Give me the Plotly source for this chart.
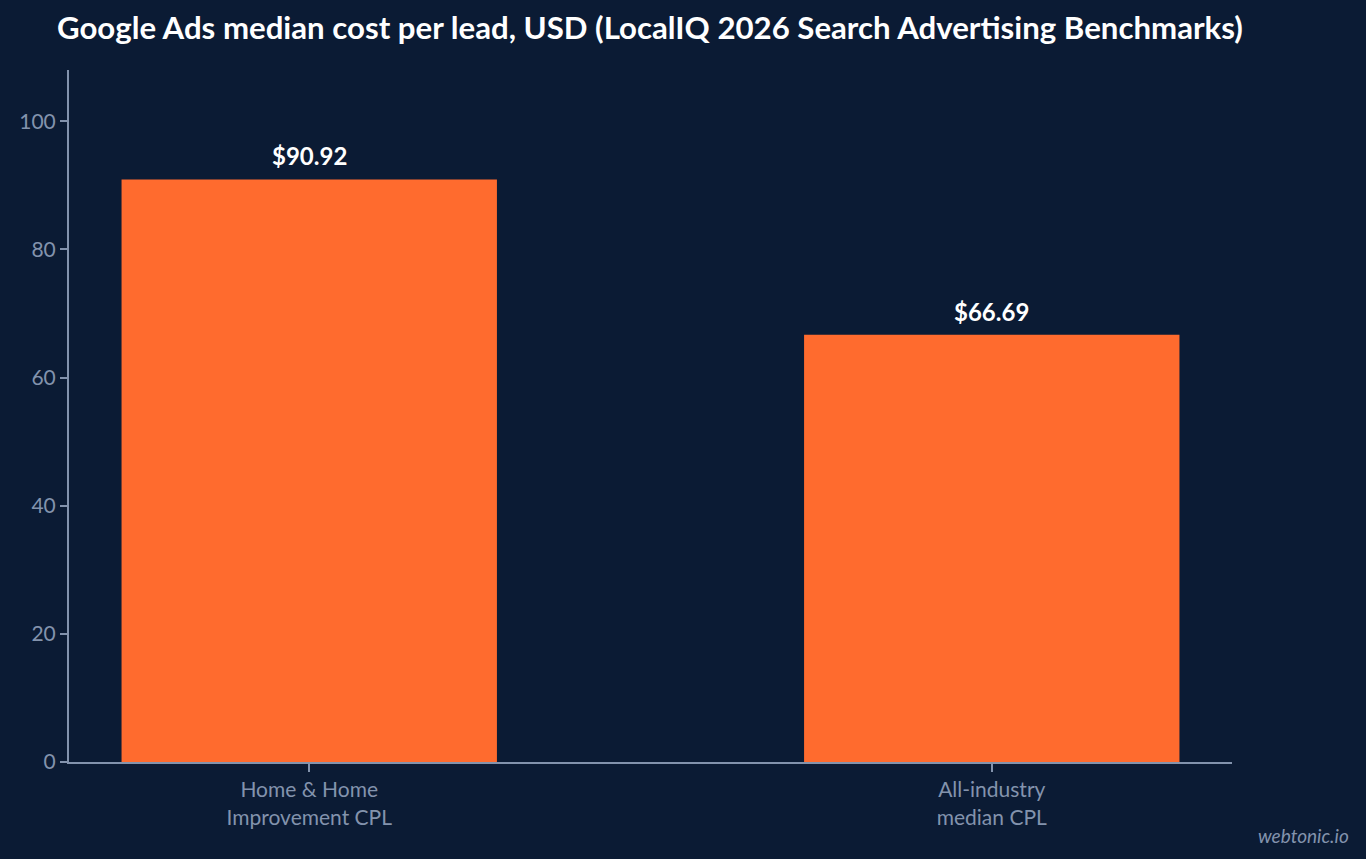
import plotly.graph_objects as go

categories = ["Home & Home<br>Improvement CPL", "All-industry<br>median CPL"]
values = [90.92, 66.69]
labels = ["$90.92", "$66.69"]
y_ticks = [0, 20, 40, 60, 80, 100]

BG = "#0b1b34"
AXIS = "#8393ad"
BAR = "#ff6b2e"

fig = go.Figure(
    go.Bar(
        x=categories,
        y=values,
        marker=dict(color=BAR, line=dict(width=0)),
        width=0.55,
        hoverinfo="skip",
    )
)

for cat, val, lab in zip(categories, values, labels):
    fig.add_annotation(
        x=cat,
        y=val,
        text="<b>%s</b>" % lab,
        showarrow=False,
        xanchor="center",
        yanchor="bottom",
        yshift=7,
        font=dict(family="Lato", size=24, color="#ffffff"),
    )

fig.update_layout(
    width=1366,
    height=859,
    paper_bgcolor=BG,
    plot_bgcolor=BG,
    margin=dict(l=69, r=134, t=70, b=97),
    font=dict(family="Lato", color=AXIS, size=21),
    title=dict(
        text="<b>Google Ads median cost per lead, USD (LocalIQ 2026 Search Advertising Benchmarks)</b>",
        font=dict(family="Lato", size=31.2, color="#ffffff"),
        x=57 / 1366,
        xanchor="left",
        y=1 - 28 / 859,
        yanchor="middle",
    ),
    xaxis=dict(
        range=[-0.352, 1.352],
        showline=True,
        linecolor=AXIS,
        linewidth=2,
        ticks="outside",
        ticklen=8,
        tickcolor=AXIS,
        tickwidth=2,
        showgrid=False,
        tickfont=dict(family="Lato", size=21, color=AXIS),
    ),
    yaxis=dict(
        range=[0, 108],
        tickvals=y_ticks,
        showline=True,
        linecolor=AXIS,
        linewidth=2,
        ticks="outside",
        ticklen=7,
        tickcolor=AXIS,
        tickwidth=2,
        showgrid=False,
        zeroline=False,
        tickfont=dict(family="Lato", size=21, color=AXIS),
    ),
    showlegend=False,
)

fig.add_annotation(
    text="<i>webtonic.io</i>",
    xref="paper",
    yref="paper",
    x=1 + (1351 - 1232) / 1163,
    y=-(835 - 762) / 692,
    xanchor="right",
    yanchor="middle",
    showarrow=False,
    font=dict(family="Lato", size=19, color=AXIS),
)

fig.write_html(
    "out.html",
    config={"displayModeBar": False},
    post_script="document.body.style.margin='0';document.body.style.background='%s';" % BG,
)
